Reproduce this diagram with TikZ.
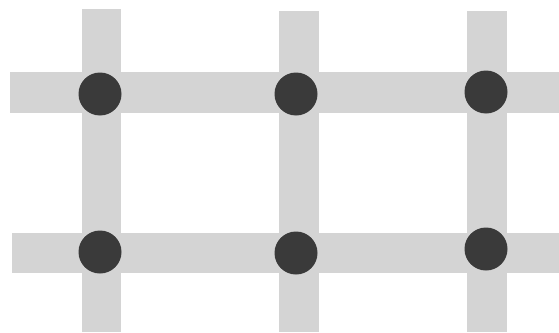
\documentclass[tikz,border=0pt]{standalone}
\definecolor{bargray}{HTML}{D4D4D4}
\definecolor{dotgray}{HTML}{3A3A3A}
\tikzset{
  bar/.style={fill=bargray, draw=none},
  dot/.style={circle, fill=dotgray, draw=none, minimum size=43pt, inner sep=0pt}
}
\begin{document}
\begin{tikzpicture}[x=1pt, y=-1pt]
\useasboundingbox (0,0) rectangle (559,332);
\fill[white] (0,0) rectangle (559,332);
% horizontal bars
\path[bar] (10,72) rectangle (559,113);
\path[bar] (12,233) rectangle (559,273);
% vertical bars
\path[bar] (82,9) rectangle (121,332);
\path[bar] (279,11) rectangle (319,332);
\path[bar] (467,11) rectangle (507,332);
% dots
\node[dot] (d1) at (100,94) {};
\node[dot] (d2) at (296,94) {};
\node[dot] (d3) at (486,92) {};
\node[dot] (d4) at (100,252) {};
\node[dot] (d5) at (296,253) {};
\node[dot] (d6) at (486,249) {};
\end{tikzpicture}
\end{document}
